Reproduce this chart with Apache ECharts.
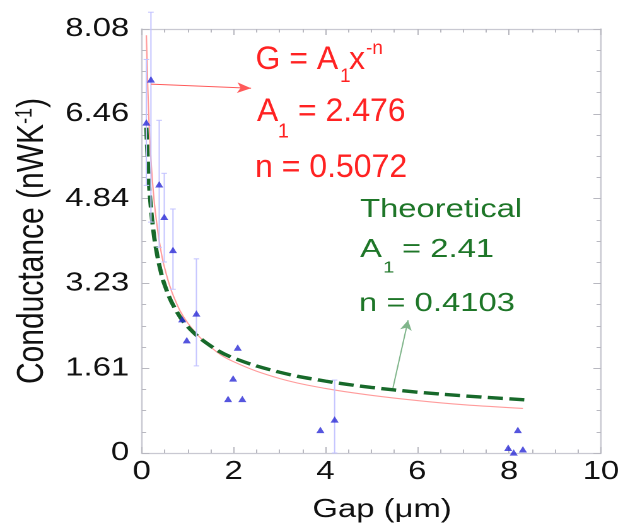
<!DOCTYPE html>
<html>
<head>
<meta charset="utf-8">
<script src="https://cdn.jsdelivr.net/npm/echarts@6/dist/echarts.min.js"></script>
<style>
  html, body { margin: 0; padding: 0; background: #fff; overflow: hidden; }
  #chart { width: 494px; height: 529px; transform: scaleX(1.2611); transform-origin: 0 0; }
</style>
</head>
<body>
<div id="chart"></div>
<script>
// ---- data ----
const gapX = [0.10, 0.20, 0.38, 0.49, 0.68, 0.88, 0.98, 1.19, 1.88, 1.99, 2.09, 2.19, 3.89, 4.20, 7.98, 8.10, 8.19, 8.30];
const cond = [6.30, 7.12, 5.12, 4.50, 3.87, 2.55, 2.15, 2.66, 1.03, 1.42, 2.01, 1.03, 0.44, 0.64, 0.10, 0.01, 0.44, 0.07];
const errLow  = [5.10, 4.40, 3.92, 3.64, 3.12, null, null, 1.66, null, null, null, null, null, 0.00, null, null, null, null];
const errHigh = [7.50, 8.40, 6.34, 5.33, 4.65, null, null, 3.70, null, null, null, null, null, 1.39, null, null, null, null];

// fitted curve G = 2.476 x^-0.5072
const fitX = [0.10, 0.15, 0.20, 0.25, 0.30, 0.40, 0.50, 0.70, 1.0, 1.5, 2.0, 3.0, 4.0, 5.0, 6.0, 7.0, 8.3];
const fitY = [7.96, 6.48, 5.60, 5.00, 4.56, 3.94, 3.52, 2.97, 2.48, 2.02, 1.74, 1.42, 1.23, 1.10, 1.00, 0.92, 0.85];
// theoretical curve G = 2.41 x^-0.4103 (green dashed)
const theoX = [0.10, 0.15, 0.20, 0.25, 0.30, 0.40, 0.50, 0.70, 1.0, 1.5, 2.0, 3.0, 4.0, 5.0, 6.0, 7.0, 8.4];
const theoY = [6.20, 5.25, 4.67, 4.26, 3.95, 3.51, 3.20, 2.79, 2.41, 2.04, 1.81, 1.54, 1.37, 1.25, 1.16, 1.09, 1.01];

const xTicks = ['0', '2', '4', '6', '8', '10'];
const yTicks = ['0', '1.61', '3.23', '4.84', '6.46', '8.08'];
const xStep = 2, xMax = 10;
const yStep = 1.616, yMax = 8.08;

// annotation arrows (data coordinates)
const redArrow = [[0.20, 7.03], [2.38, 6.95]];
const greenArrow = [[5.47, 1.24], [5.80, 2.53]];

// ---- chart ----
const FONT = '"Liberation Sans", Arial, Helvetica, sans-serif';
const S = 623 / 494;
const chart = echarts.init(document.getElementById('chart'), null, { devicePixelRatio: 2 });

const pts = gapX.map((x, i) => [x, cond[i]]);
const errs = gapX.map((x, i) => [x, errLow[i], errHigh[i]]).filter(d => d[1] !== null);
const fit = fitX.map((x, i) => [x, fitY[i]]);
const theo = theoX.map((x, i) => [x, theoY[i]]);

const axisCol = '#c9c9d2';
const frameAxis = (extra) => Object.assign({
  type: 'value', splitLine: { show: false },
  axisLine: { show: true, onZero: false, lineStyle: { color: axisCol, width: 1.2 } },
  axisTick: { show: true, inside: true, length: 6, lineStyle: { color: '#b8b8c0' } },
  minorTick: { show: true, splitNumber: 4, length: 3.5, lineStyle: { color: '#b8b8c0' } },
  minorSplitLine: { show: false }
}, extra);

function redText(txt, xo, yo, size) {
  return { type: 'text', x: xo / S, y: yo, scaleX: 1 / S, z: 100,
    style: { text: txt, fill: '#ff2222', font: size + 'px ' + FONT, align: 'left', verticalAlign: 'middle' } };
}
function greenText(txt, xo, yo, size) {
  return { type: 'text', x: xo / S, y: yo, z: 100,
    style: { text: txt, fill: '#1e7628', font: size + 'px ' + FONT, align: 'left', verticalAlign: 'middle' } };
}

chart.setOption({
  animation: false,
  backgroundColor: '#ffffff',
  grid: { left: 112.4, right: 14.3, top: 29, bottom: 76 },
  xAxis: [
    frameAxis({ min: 0, max: xMax, interval: xStep, position: 'bottom',
      name: 'Gap (μm)', nameLocation: 'middle', nameGap: 44,
      nameTextStyle: { fontFamily: FONT, fontSize: 26, color: '#111', padding: [0, 0, 0, 17] },
      axisLabel: { fontFamily: FONT, fontSize: 26, color: '#111', margin: 6,
        formatter: v => xTicks[Math.round(v / xStep)] } }),
    frameAxis({ min: 0, max: xMax, interval: xStep, position: 'top', axisLabel: { show: false } })
  ],
  yAxis: [
    frameAxis({ min: 0, max: yMax, interval: yStep, position: 'left',
      name: 'Conductance (nWK{sup|-1})', nameLocation: 'middle', nameGap: 70,
      nameTextStyle: { fontFamily: FONT, fontSize: 30, color: '#111', lineHeight: 30,
        rich: { sup: { fontFamily: FONT, fontSize: 18, color: '#111', verticalAlign: 'top', lineHeight: 18 } } },
      axisLabel: { fontFamily: FONT, fontSize: 26, color: '#111', margin: 10,
        formatter: v => yTicks[Math.round(v / yStep)] } }),
    frameAxis({ min: 0, max: yMax, interval: yStep, position: 'right', axisLabel: { show: false } })
  ],
  series: [
    { type: 'line', data: fit, smooth: 0.4, showSymbol: false, symbol: 'none', z: 2,
      lineStyle: { color: '#ff9c9c', width: 1.1 },
      markLine: { silent: true, symbol: ['none', 'arrow'], symbolSize: [8, 11], label: { show: false },
        lineStyle: { color: '#ff5a5a', width: 1, type: 'solid' },
        data: [[{ coord: redArrow[0] }, { coord: redArrow[1] }]] } },
    { type: 'line', data: theo, smooth: 0.4, showSymbol: false, symbol: 'none', z: 3,
      lineStyle: { color: '#17692a', width: 3.4, type: [12, 5] },
      markLine: { silent: true, symbol: ['none', 'arrow'], symbolSize: [7, 10], label: { show: false },
        lineStyle: { color: '#7fb58a', width: 1, type: 'solid' },
        data: [[{ coord: greenArrow[0] }, { coord: greenArrow[1] }]] } },
    { type: 'custom', data: errs, z: 4, clip: false,
      renderItem: (params, api) => {
        const x = api.value(0);
        const lo = api.coord([x, api.value(1)]);
        const hi = api.coord([x, api.value(2)]);
        const c = 2.2;
        const st = { stroke: '#c4c4ff', lineWidth: 1 };
        return { type: 'group', children: [
          { type: 'line', shape: { x1: lo[0], y1: lo[1], x2: hi[0], y2: hi[1] }, style: st },
          { type: 'line', shape: { x1: lo[0] - c, y1: lo[1], x2: lo[0] + c, y2: lo[1] }, style: st },
          { type: 'line', shape: { x1: hi[0] - c, y1: hi[1], x2: hi[0] + c, y2: hi[1] }, style: st }
        ] };
      } },
    { type: 'scatter', data: pts, symbol: 'triangle', symbolSize: [6.4, 6.4], z: 5,
      itemStyle: { color: '#2a2ad6' } }
  ],
  graphic: [
    redText('G = A', 255.5, 60, 32),
    redText('1', 340, 77, 19),
    redText('x', 349, 60, 32),
    redText('-n', 366, 49, 19),
    redText('A', 257, 112, 32),
    redText('1', 278, 132, 20),
    redText('= 2.476', 298, 112, 32),
    redText('n = 0.5072', 255, 168, 32),
    greenText('Theoretical', 360, 210, 26),
    greenText('A', 360, 250, 26),
    greenText('1', 383, 268, 16),
    greenText('= 2.41', 402, 250, 26),
    greenText('n = 0.4103', 359, 304, 26)
  ]
});
</script>
</body>
</html>
